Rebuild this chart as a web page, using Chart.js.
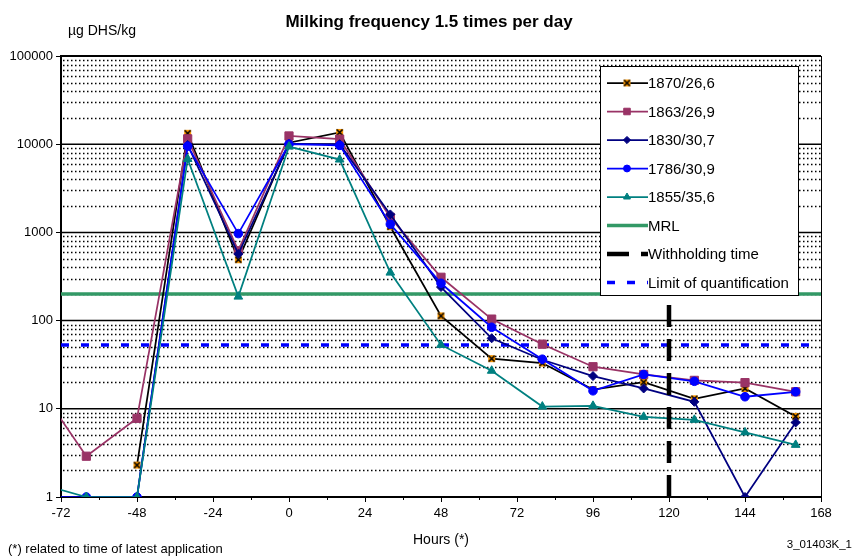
<!DOCTYPE html>
<html>
<head>
<meta charset="utf-8">
<title>Milking frequency 1.5 times per day</title>
<script src="https://cdn.jsdelivr.net/npm/chart.js@4.4.0/dist/chart.umd.min.js"></script>
<style>
    body { margin: 0; background: #fff; }
    canvas { display: block; }
</style>
</head>
<body>
<canvas id="chart" width="855" height="558"></canvas>
<script>
// ===== DATA =====
// sampling times (hours after latest application); -80 lies just left of the axis
const hours = [-80, -64, -48, -32, -16, 0, 16, 32, 48, 64, 80, 96, 112, 128, 144, 160];

// residue in milk, µg DHS/kg, one array per cow
const cow1870 = [null, null, 2.3, 13300, 490, 10400, 13600, 1160, 113, 37, 33, 16.5, 20, 13, 17, 8.2];
const cow1863 = [20, 2.9, 7.8, 11500, 620, 12400, 11400, 1480, 310, 104, 54, 30, 24.5, 21, 19.8, 15.6];
const cow1830 = [null, null, 1, 9800, 570, 10100, 10000, 1600, 240, 63, 36, 23.5, 17, 12, 1, 7];
const cow1786 = [1, 1, 1, 9500, 970, 10000, 9700, 1240, 265, 84, 36.5, 16, 24.5, 20.5, 13.7, 15.6];
const cow1855 = [1.45, 1, 1, 6800, 187, 9400, 6700, 350, 53, 27, 10.6, 10.8, 8.1, 7.5, 5.4, 3.9];

const mrlValue = 200;          // maximum residue limit
const loqValue = 53;           // limit of quantification
const withholdingHour = 120;
const withholdingTop = 160;

const xTicks = [-72, -48, -24, 0, 24, 48, 72, 96, 120, 144, 168];
const yTicks = [1, 10, 100, 1000, 10000, 100000];

const FONT = "'Liberation Sans', Arial, sans-serif";

// orange box with a black cross, used for cow 1870
function crossMarker() {
    const c = document.createElement("canvas");
    c.width = 9; c.height = 9;
    const g = c.getContext("2d");
    g.fillStyle = "#ff9900";
    g.fillRect(1, 1, 7, 7);
    g.strokeStyle = "#000";
    g.lineWidth = 1.6;
    g.beginPath();
    g.moveTo(1.5, 1.5); g.lineTo(7.5, 7.5);
    g.moveTo(7.5, 1.5); g.lineTo(1.5, 7.5);
    g.stroke();
    return c;
}

function series(label, values, color, style, radius, order) {
    return {
        label: label,
        data: hours.map((h, i) => ({ x: h, y: values[i] })).filter(p => p.y !== null),
        borderColor: color,
        backgroundColor: color,
        borderWidth: 1.75,
        pointStyle: style,
        pointRadius: radius,
        pointHoverRadius: radius,
        pointBorderWidth: 1,
        tension: 0,
        order: order
    };
}

function refLine(label, points, color, width, dash, order) {
    return {
        label: label,
        data: points,
        borderColor: color,
        backgroundColor: color,
        borderWidth: width,
        borderDash: dash,
        pointRadius: 0,
        pointHoverRadius: 0,
        tension: 0,
        order: order
    };
}

const datasets = [
    series("1870/26,6", cow1870, "#000000", crossMarker(), 4.5, 0),
    series("1863/26,9", cow1863, "#993366", "rect", 5.8, -1),
    series("1830/30,7", cow1830, "#000080", "rectRot", 4.5, -2),
    series("1786/30,9", cow1786, "#0000ff", "circle", 4.3, -3),
    series("1855/35,6", cow1855, "#008080", "triangle", 5, -4),
    refLine("MRL", [{ x: -72, y: mrlValue }, { x: 168, y: mrlValue }], "#339966", 3.5, [], 10),
    refLine("Withholding time", [{ x: withholdingHour, y: 1 }, { x: withholdingHour, y: withholdingTop }], "#000000", 4.5, [22, 12], -10),
    refLine("Limit of quantification", [{ x: -72, y: loqValue }, { x: 168, y: loqValue }], "#0000ff", 3.5, [8, 12], 9)
];

// ===== GRID: dotted lines at 2..9, solid at each decade =====
const gridPlugin = {
    id: "logGrid",
    beforeDatasetsDraw(chart) {
        const { ctx, chartArea: a, scales: { x, y } } = chart;
        ctx.save();
        ctx.strokeStyle = "#000";
        ctx.lineWidth = 1.3;
        ctx.setLineDash([1.5, 2.5]);
        for (let d = 1; d < 100000; d *= 10) {
            for (let m = 2; m < 10; m++) {
                const py = Math.round(y.getPixelForValue(d * m)) + 0.5;
                ctx.beginPath();
                ctx.moveTo(a.left + 2, py);
                ctx.lineTo(a.right, py);
                ctx.stroke();
            }
        }
        ctx.setLineDash([]);
        yTicks.slice(1).forEach(v => {
            const py = y.getPixelForValue(v);
            ctx.lineWidth = v === 100000 ? 2 : 1.5;
            ctx.beginPath();
            ctx.moveTo(a.left, py);
            ctx.lineTo(a.right, py);
            ctx.stroke();
        });
        // right frame
        ctx.lineWidth = 1;
        ctx.beginPath();
        ctx.moveTo(a.right + 0.5, a.top);
        ctx.lineTo(a.right + 0.5, a.bottom);
        ctx.stroke();
        // small ticks halfway between the labelled hours
        for (let h = -60; h < 168; h += 24) {
            const px = Math.round(x.getPixelForValue(h)) + 0.5;
            ctx.beginPath();
            ctx.moveTo(px, a.bottom);
            ctx.lineTo(px, a.bottom + 3);
            ctx.stroke();
        }
        ctx.restore();
    }
};

// ===== TEXTS AND LEGEND =====
const decorPlugin = {
    id: "decor",
    afterDraw(chart) {
        const ctx = chart.ctx;
        ctx.save();
        ctx.fillStyle = "#000";
        ctx.textBaseline = "middle";

        ctx.font = "bold 17px " + FONT;
        ctx.textAlign = "center";
        ctx.fillText("Milking frequency 1.5 times per day", 429, 22);

        ctx.font = "14px " + FONT;
        ctx.textAlign = "left";
        ctx.fillText("µg DHS/kg", 68, 31);

        ctx.font = "13px " + FONT;
        ctx.fillText("(*) related to time of latest application", 8, 549);

        ctx.font = "11.5px " + FONT;
        ctx.textAlign = "right";
        ctx.fillText("3_01403K_1", 852, 545);

        // legend box
        const box = { x: 600.5, y: 66.5, w: 198, h: 229 };
        ctx.fillStyle = "#fff";
        ctx.fillRect(box.x, box.y, box.w, box.h);
        ctx.strokeStyle = "#000";
        ctx.lineWidth = 1;
        ctx.strokeRect(box.x, box.y, box.w, box.h);

        chart.data.datasets.forEach((ds, i) => {
            const ry = 83 + i * 28.5;
            ctx.strokeStyle = ds.borderColor;
            ctx.lineWidth = ds.borderWidth;
            ctx.setLineDash(ds.borderDash || []);
            ctx.beginPath();
            ctx.moveTo(607, ry);
            ctx.lineTo(648, ry);
            ctx.stroke();
            ctx.setLineDash([]);
            if (ds.pointRadius > 0) {
                ctx.fillStyle = ds.backgroundColor;
                ctx.lineWidth = 1;
                Chart.helpers.drawPoint(ctx, {
                    pointStyle: ds.pointStyle,
                    rotation: 0,
                    radius: ds.pointRadius * 0.8,
                    borderWidth: 1
                }, 627, ry);
            }
            ctx.fillStyle = "#000";
            ctx.font = "15px " + FONT;
            ctx.textAlign = "left";
            ctx.fillText(ds.label, 648, ry + 1);
        });
        ctx.restore();
    }
};

// ===== CHART =====
new Chart(document.getElementById("chart"), {
    type: "line",
    data: { datasets: datasets },
    options: {
        responsive: false,
        animation: false,
        devicePixelRatio: 1,
        layout: { padding: { top: 56, right: 34, left: 0, bottom: 0 } },
        plugins: {
            legend: { display: false },
            title: { display: false },
            tooltip: { enabled: false }
        },
        scales: {
            x: {
                type: "linear",
                min: -72,
                max: 168,
                afterBuildTicks: s => { s.ticks = xTicks.map(v => ({ value: v })); },
                afterFit: s => { s.height = 61; },
                ticks: {
                    color: "#000",
                    font: { family: FONT, size: 13 },
                    padding: 4,
                    maxRotation: 0,
                    autoSkip: false
                },
                grid: { drawOnChartArea: false, drawTicks: true, tickLength: 5, color: "#000", lineWidth: 1 },
                border: { display: true, color: "#000", width: 2 },
                title: {
                    display: true,
                    text: "Hours (*)",
                    color: "#000",
                    font: { family: FONT, size: 14 },
                    padding: { top: 0, bottom: 9 }
                }
            },
            y: {
                type: "logarithmic",
                min: 1,
                max: 100000,
                afterBuildTicks: s => { s.ticks = yTicks.map(v => ({ value: v })); },
                afterFit: s => { s.width = 61; },
                ticks: {
                    color: "#000",
                    font: { family: FONT, size: 13 },
                    padding: 3,
                    autoSkip: false,
                    callback: v => String(v)
                },
                grid: { drawOnChartArea: false, drawTicks: true, tickLength: 5, color: "#000", lineWidth: 1 },
                border: { display: true, color: "#000", width: 2 }
            }
        }
    },
    plugins: [gridPlugin, decorPlugin]
});
</script>
</body>
</html>
